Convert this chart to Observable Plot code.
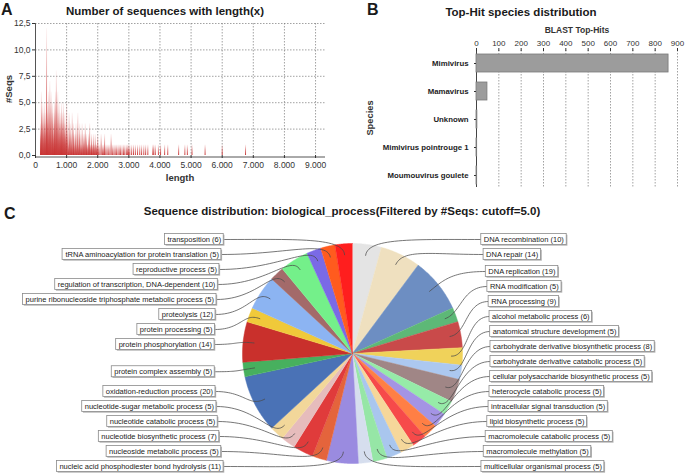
<!DOCTYPE html>
<html><head><meta charset="utf-8">
<script src="https://cdn.jsdelivr.net/npm/d3@7"></script>
<script src="https://cdn.jsdelivr.net/npm/@observablehq/plot@0.6"></script>
<style>
body{margin:0;background:#fff;}
#wrap{position:relative;width:685px;height:475px;overflow:hidden;background:#fff;}
.pane{position:absolute;}
.pane svg{display:block;max-width:none !important;}
#overlay{position:absolute;left:0;top:0;pointer-events:none;}
</style></head>
<body><div id="wrap">
<div class="pane" id="pA" style="left:0;top:0;width:340px;height:195px"></div>
<div class="pane" id="pB" style="left:340px;top:0;width:345px;height:195px"></div>
<div class="pane" id="pC" style="left:0;top:200px;width:685px;height:275px"></div>
</div>
<script>
// ---------------- DATA ----------------
// Panel A: number of sequences with a given length
const histLengths = [
  160,175,190,205,220,235,250,265,280,295,310,325,340,355,370,385,400,415,430,445,
  460,475,490,505,520,535,550,565,580,595,610,625,640,655,670,685,700,715,730,745,
  760,775,790,805,820,835,850,865,880,895,910,925,940,955,970,985,1000,
  1020,1040,1060,1080,1100,1120,1140,1160,1180,1200,1220,1240,1260,1280,1300,1320,1340,1360,1380,1400,
  1420,1440,1460,1480,1500,1520,1540,1560,1580,1600,1620,1640,1660,1680,1700,1720,1740,1760,1780,1800,
  1820,1840,1860,1880,1900,1920,1940,1960,1980,2000,
  2030,2070,2110,2150,2190,2220,2260,2300,2340,2390,2430,2470,2520,2560,2600,2650,2690,2730,2780,2830,
  2870,2920,2960,2990,
  3030,3090,3150,3210,3280,3350,3410,3480,3540,3610,3770,3800,3850,3950,4020,4150,4250,4600,4800,4880,
  5030,5450,6000,6750
];
const histCounts = [
  3,2,6,4,3,5,2,4,3,5,2,4,3,12,4,5,3,6,2,4,
  7,3,5,6,2,4,5,3,2,4,5,3,6,2,8,4,3,6,2,4,
  5,3,2,4,3,5,2,4,3,5,2,3,4,2,3,2,5,
  3,2,1,4,2,3,1,2,4,1,3,2,1,2,3,1,2,4,1,2,
  3,1,2,1,3,1,2,1,2,3,1,2,1,1,2,1,3,1,1,2,
  1,1,2,1,1,2,1,1,1,2,
  1,1,2,1,1,2,1,1,1,1,2,1,1,1,1,1,1,1,1,1,
  1,1,1,1,
  1,1,1,1,1,1,1,1,1,1,1,1,1,1,1,1,1,1,1,1,
  1,1,1,1
];
const xTicksA = [0,1000,2000,3000,4000,5000,6000,7000,8000,9000];
const yTicksA = [0,2.5,5,7.5,10,12.5];

// Panel B: BLAST top-hit species
const species = ["Mimivirus","Mamavirus","Unknown","Mimivirus pointrouge 1","Moumouvirus goulete"];
const topHits = [860, 49, 4, 3, 3];
const xTicksB = [0,100,200,300,400,500,600,700,800,900];

// Panel C: biological process distribution
const bpTerms = [
  "DNA recombination","DNA repair","DNA replication","RNA modification","RNA processing",
  "alcohol metabolic process","anatomical structure development",
  "carbohydrate derivative biosynthetic process","carbohydrate derivative catabolic process",
  "cellular polysaccharide biosynthetic process","heterocycle catabolic process",
  "intracellular signal transduction","lipid biosynthetic process","macromolecule catabolic process",
  "macromolecule methylation","multicellular organismal process",
  "nucleic acid phosphodiester bond hydrolysis","nucleoside metabolic process",
  "nucleotide biosynthetic process","nucleotide catabolic process","nucleotide-sugar metabolic process",
  "oxidation-reduction process","protein complex assembly","protein phosphorylation","protein processing",
  "proteolysis","purine ribonucleoside triphosphate metabolic process",
  "regulation of transcription, DNA-dependent","reproductive process",
  "tRNA aminoacylation for protein translation","transposition"
];
const bpCounts = [10,14,19,5,9,6,5,8,5,5,5,5,5,5,5,5,11,5,7,5,5,20,5,14,5,12,5,10,5,5,6];
const bpColors = [
  "#e4e4e4","#efe0bf","#6d8ec2","#5db877","#c94a4a","#f0d25a","#acc8f0","#a08686",
  "#96eba8","#a494e4","#ff7f45","#f64a4a","#f6d79a","#a9c6ee","#96e6a6","#d6deee",
  "#9a8be0","#e4643c","#e03b3b","#e6bcbc","#f2d79a","#4a72b6","#47b05e","#c9302c",
  "#f0c93a","#8cb4f2","#a36a6a","#74f08a","#7a6ae6","#ff5b1e","#ff1e1e"
];

// ---------------- HELPERS ----------------
const FONT = "'Liberation Sans', Arial, Helvetica, sans-serif";
const fmtK = d => d3.format(",")(d).replace(/,/g, ".");
const fmtDec = d => d.toFixed(1).replace(".", ",");
const gridStyle = {stroke: "#7a7a7a", strokeOpacity: 1, strokeWidth: 0.7, strokeDasharray: "1.5,1.5"};

// ---------------- PANEL A ----------------
const histData = histLengths.map((l, i) => ({length: l, count: histCounts[i]}));
const svgA = Plot.plot({
  width: 340, height: 195,
  marginLeft: 35, marginRight: 15, marginTop: 23, marginBottom: 40,
  style: {fontFamily: FONT, fontSize: "8.5px", color: "#333", background: "transparent"},
  x: {domain: [0, 9320]},
  y: {domain: [0, 12.5]},
  marks: [
    Plot.gridX(xTicksA.slice(1), gridStyle),
    Plot.gridY(yTicksA.slice(1), gridStyle),
    Plot.rectY(histData, {x1: "length", x2: d => d.length + 32, y: "count", fill: "url(#histGrad)"}),
    Plot.ruleX([0], {stroke: "#555"}),
    Plot.ruleY([0], {stroke: "#555", dy: 1.5}),
    Plot.axisX(xTicksA, {tickFormat: fmtK, tickSize: 3, tickPadding: 3, label: null}),
    Plot.axisY(yTicksA, {tickFormat: fmtDec, tickSize: 3, tickPadding: 2, label: null})
  ]
});
{
  const defs = d3.select(svgA).insert("defs", ":first-child");
  const g = defs.append("linearGradient").attr("id", "histGrad")
    .attr("x1", 0).attr("y1", 1).attr("x2", 0).attr("y2", 0);
  g.append("stop").attr("offset", 0).attr("stop-color", "#c83232").attr("stop-opacity", 1);
  g.append("stop").attr("offset", 0.5).attr("stop-color", "#cc4040").attr("stop-opacity", 0.6);
  g.append("stop").attr("offset", 1).attr("stop-color", "#dc6a6a").attr("stop-opacity", 0.06);
}
document.getElementById("pA").appendChild(svgA);

// ---------------- PANEL B ----------------
const hitsData = species.map((s, i) => ({species: s, hits: topHits[i]}));
const svgB = Plot.plot({
  width: 345, height: 195,
  marginLeft: 136, marginRight: 8, marginTop: 50, marginBottom: 8,
  style: {fontFamily: FONT, fontSize: "8px", color: "#333", background: "transparent"},
  x: {domain: [0, 900]},
  y: {domain: species, paddingInner: 0.36, paddingOuter: 0.1},
  marks: [
    Plot.gridX(xTicksB.slice(1), gridStyle),
    Plot.ruleX([0], {stroke: "#444"}),
    Plot.barX(hitsData, {x: "hits", y: "species", fill: "#9c9c9c", stroke: "#7a7a7a", strokeWidth: 0.8}),
    Plot.axisX(xTicksB, {anchor: "top", tickSize: 3, tickPadding: 2, label: null}),
    Plot.axisY({tickSize: 2, tickPadding: 6, label: null, fontWeight: "bold", fontSize: 7.8, fill: "#222"})
  ]
});
document.getElementById("pB").appendChild(svgB);

// ---------------- PANEL C ----------------
const CX = 352, CY = 353, R = 110;
const LBL_TOP = 239, LBL_BOTTOM = 466, LBL_GAP = 15, LBL_RX = 138, LBL_RY = 317, LBL_FS = 7.5;
const arcs = d3.pie().sort(null).value(d => d)(bpCounts);

const slicePts = [];
arcs.forEach((a, i) => {
  const n = Math.max(4, Math.ceil((a.endAngle - a.startAngle) / 0.01));
  slicePts.push({term: bpTerms[i], color: bpColors[i], x: CX, y: CY});
  for (let k = 0; k <= n; k++) {
    const t = a.startAngle + (a.endAngle - a.startAngle) * k / n;
    slicePts.push({term: bpTerms[i], color: bpColors[i], x: CX + R * Math.sin(t), y: CY - R * Math.cos(t)});
  }
});

const labels = arcs.map((a, i) => {
  const m = (a.startAngle + a.endAngle) / 2;
  return {i, m, text: `${bpTerms[i]} (${bpCounts[i]})`, right: Math.sin(m) >= 0, ny: CY - 125 * Math.cos(m)};
});
function distribute(arr) {
  arr.sort((a, b) => a.ny - b.ny);
  arr.forEach((d, j) => {
    d.y = Math.max(d.ny, LBL_TOP);
    if (j) d.y = Math.max(d.y, arr[j - 1].y + LBL_GAP);
  });
  for (let j = arr.length - 1; j >= 0; j--) {
    arr[j].y = Math.min(arr[j].y, j === arr.length - 1 ? LBL_BOTTOM : arr[j + 1].y - LBL_GAP);
  }
}
distribute(labels.filter(d => d.right));
distribute(labels.filter(d => !d.right));

const ctx = document.createElement("canvas").getContext("2d");
ctx.font = `${LBL_FS}px ${FONT}`;
labels.forEach(d => {
  const dy = d.y - CY;
  const ex = CX + (d.right ? 1 : -1) * LBL_RX * Math.sqrt(1 - (dy / LBL_RY) ** 2);
  const w = ctx.measureText(d.text).width + 5;
  d.ex = ex;
  d.x1 = d.right ? ex : ex - w;
  d.x2 = d.right ? ex + w : ex;
  d.y1 = d.y - 5.5; d.y2 = d.y + 5.5;
  d.tx = d.right ? d.x1 + 2.5 : d.x2 - 2.5;
});

const leaderPts = [];
labels.forEach(d => {
  const s = Math.sin(d.m), c = Math.cos(d.m);
  const p0 = [CX + 0.9 * R * s, CY - 0.9 * R * c];
  const p1 = [CX + 1.06 * R * s, CY - 1.06 * R * c];
  const p3 = [d.ex, d.y];
  const p2 = [d.ex - 0.6 * (d.ex - p0[0]), d.y];
  for (let k = 0; k <= 30; k++) {
    const t = k / 30, u = 1 - t;
    const b0 = u * u * u, b1 = 3 * u * u * t, b2 = 3 * u * t * t, b3 = t * t * t;
    leaderPts.push({i: d.i,
      x: b0 * p0[0] + b1 * p1[0] + b2 * p2[0] + b3 * p3[0],
      y: b0 * p0[1] + b1 * p1[1] + b2 * p2[1] + b3 * p3[1]});
  }
});

const svgC = Plot.plot({
  width: 685, height: 275, margin: 0,
  style: {fontFamily: FONT, color: "#222", background: "transparent"},
  x: {domain: [0, 685], range: [0, 685], axis: null},
  y: {domain: [200, 475], range: [0, 275], axis: null},
  color: {type: "identity"},
  marks: [
    Plot.line(slicePts, {x: "x", y: "y", z: "term", fill: "color", stroke: "color", strokeWidth: 0.5, curve: "linear"}),
    Plot.line(leaderPts, {x: "x", y: "y", z: "i", stroke: "#4a4a4a", strokeWidth: 0.75, curve: "linear"}),
    Plot.rect(labels, {x1: d => d.x1 + 1.2, x2: d => d.x2 + 1.2, y1: d => d.y1 + 1.2, y2: d => d.y2 + 1.2, fill: "#b5b5b5"}),
    Plot.rect(labels, {x1: "x1", x2: "x2", y1: "y1", y2: "y2", fill: "white", stroke: "#8a8a8a", strokeWidth: 0.8}),
    Plot.text(labels.filter(d => !d.right), {x: "tx", y: "y", text: "text", textAnchor: "end", fontSize: LBL_FS, fill: "#222"}),
    Plot.text(labels.filter(d => d.right), {x: "tx", y: "y", text: "text", textAnchor: "start", fontSize: LBL_FS, fill: "#222"})
  ]
});
document.getElementById("pC").appendChild(svgC);

// ---------------- TEXT OVERLAY ----------------
const ov = d3.select("#wrap").append("svg").attr("id", "overlay")
  .attr("width", 685).attr("height", 475).style("font-family", FONT);
const T = (x, y, s, size, opts = {}) => {
  const t = ov.append("text").attr("x", x).attr("y", y).text(s)
    .attr("font-size", size).attr("font-weight", opts.weight || "bold")
    .attr("fill", opts.fill || "#1a1a1a").attr("text-anchor", opts.anchor || "start");
  if (opts.rotate) t.attr("transform", `rotate(-90 ${x} ${y})`);
  return t;
};
T(1, 15, "A", 16);
T(165, 15, "Number of sequences with length(x)", 11.5, {anchor: "middle"});
T(12, 89, "#Seqs", 9.5, {anchor: "middle", rotate: true, fill: "#333"});
T(180, 181, "length", 9.5, {anchor: "middle", fill: "#333"});
T(367, 15, "B", 16);
T(521, 16, "Top-Hit species distribution", 11.5, {anchor: "middle"});
T(577, 33, "BLAST Top-Hits", 8.5, {anchor: "middle", fill: "#333"});
T(373, 118, "Species", 9.3, {anchor: "middle", rotate: true, fill: "#333"});
T(4, 219, "C", 16);
T(342, 215, "Sequence distribution: biological_process(Filtered by #Seqs: cutoff=5.0)", 11.5, {anchor: "middle"});
</script>
</body></html>
